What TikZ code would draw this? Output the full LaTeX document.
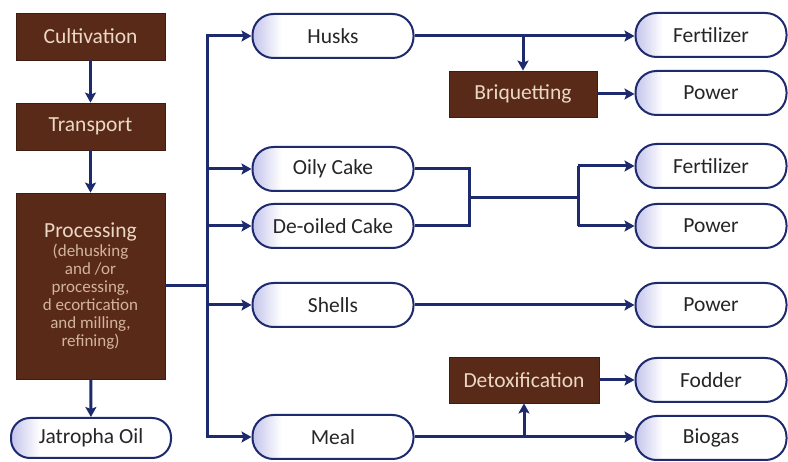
\documentclass[tikz,border=0pt]{standalone}
\usepackage{fontspec}
\setmainfont{Carlito}
\usetikzlibrary{arrows.meta}
\definecolor{boxbrown}{HTML}{5A2A18}
\definecolor{boxtext}{HTML}{EAD8C4}
\definecolor{subtext}{HTML}{D2B49C}
\definecolor{navy}{HTML}{1E2A6E}
\definecolor{lav}{HTML}{C4C4EC}
\pgfdeclarehorizontalshading{pillshade}{100bp}{color(0bp)=(lav); color(25bp)=(lav); color(34bp)=(white); color(100bp)=(white)}
\tikzset{
  brownbox/.style={draw=boxbrown!70!black, line width=0.8pt, fill=boxbrown, text=boxtext, font=\fontsize{21.5}{22}\selectfont, inner sep=0pt, align=center},
  pill/.style={draw=navy, line width=2pt, rounded corners=21pt, shading=pillshade, minimum height=44pt, text=black!85, font=\fontsize{21.5}{22}\selectfont, inner sep=0pt},
  conn/.style={draw=navy, line width=3pt},
  arr/.style={conn, -{Stealth[length=10pt,width=11pt,inset=2pt]}}
}
\begin{document}
\begin{tikzpicture}[x=1pt,y=-1pt]
\useasboundingbox (0,0) rectangle (788,462);
% left column
\node[brownbox, minimum width=149pt, minimum height=47pt] (cult) at (90.5,36.5) {Cultivation};
\node[brownbox, minimum width=149pt, minimum height=47pt] (trans) at (90.5,126.5) {Transport};
\node[brownbox, minimum width=149pt, minimum height=186pt, text=subtext, font=\fontsize{17}{18}\selectfont] (proc) at (90.5,286) {{\fontsize{21.5}{22}\selectfont\textcolor{boxtext}{Processing}}\\[1pt](dehusking\\and /or\\processing,\\d ecortication\\and milling,\\refining)};
\node[pill, minimum width=160pt, minimum height=40pt, rounded corners=19pt] (oil) at (91,438) {Jatropha Oil};
% middle pills
\node[pill, minimum width=161pt] (husks) at (333,36) {Husks};
\node[pill, minimum width=161pt] (oily) at (333,169) {Oily Cake};
\node[pill, minimum width=161pt] (deoiled) at (333,226) {De-oiled Cake};
\node[pill, minimum width=161pt] (shells) at (333,305) {Shells};
\node[pill, minimum width=161pt] (meal) at (333,437) {Meal};
% process boxes
\node[brownbox, minimum width=148pt, minimum height=46pt] (briq) at (523,94) {Briquetting};
\node[brownbox, minimum width=150pt, minimum height=46pt] (detox) at (524,380) {Detoxification};
% right pills
\node[pill, minimum width=151pt] (fert1) at (711,35) {Fertilizer};
\node[pill, minimum width=151pt] (pow1) at (711,93) {Power};
\node[pill, minimum width=151pt] (fert2) at (711,166) {Fertilizer};
\node[pill, minimum width=151pt] (pow2) at (711,226) {Power};
\node[pill, minimum width=151pt] (pow3) at (711,305) {Power};
\node[pill, minimum width=151pt] (fodder) at (711,380) {Fodder};
\node[pill, minimum width=151pt] (biogas) at (711,438) {Biogas};
% coordinates
\coordinate (busT) at (207,36);
\coordinate (busB) at (207,437);
\coordinate (busP) at (207,286);
\coordinate (hb) at (523,36);
\coordinate (mb) at (524,437);
\coordinate (cj1) at (469,169);
\coordinate (cj2) at (469,226);
\coordinate (cjm) at (469,198);
\coordinate (sp) at (578,198);
\coordinate (sp1) at (578,166);
\coordinate (sp2) at (578,226);
% connectors
\draw[arr] (cult) -- (trans);
\draw[arr] (trans) -- (proc);
\draw[arr] (proc) -- (oil);
\draw[conn] (proc.east |- busP) -- (busP);
\draw[conn, line cap=rect] (busT) -- (busB);
\draw[arr] (busT) -- (husks.west);
\draw[arr] (busT |- oily) -- (oily.west);
\draw[arr] (busT |- deoiled) -- (deoiled.west);
\draw[arr] (busT |- shells) -- (shells.west);
\draw[arr] (busB) -- (meal.west);
\draw[arr] (husks.east) -- (fert1.west |- husks);
\draw[arr] (hb) -- (briq.north);
\draw[arr] (briq.east) -- (pow1.west |- briq);
\draw[conn] (oily.east) -- (cj1) -- (cj2) -- (deoiled.east);
\draw[conn] (cjm) -- (sp);
\draw[conn] (sp1) -- (sp2);
\draw[arr] (sp1) -- (fert2.west);
\draw[arr] (sp2) -- (pow2.west);
\draw[arr] (shells.east) -- (pow3.west);
\draw[arr] (meal.east) -- (biogas.west |- meal);
\draw[arr] (mb) -- (detox.south);
\draw[arr] (detox.east) -- (fodder.west);
\end{tikzpicture}
\end{document}
